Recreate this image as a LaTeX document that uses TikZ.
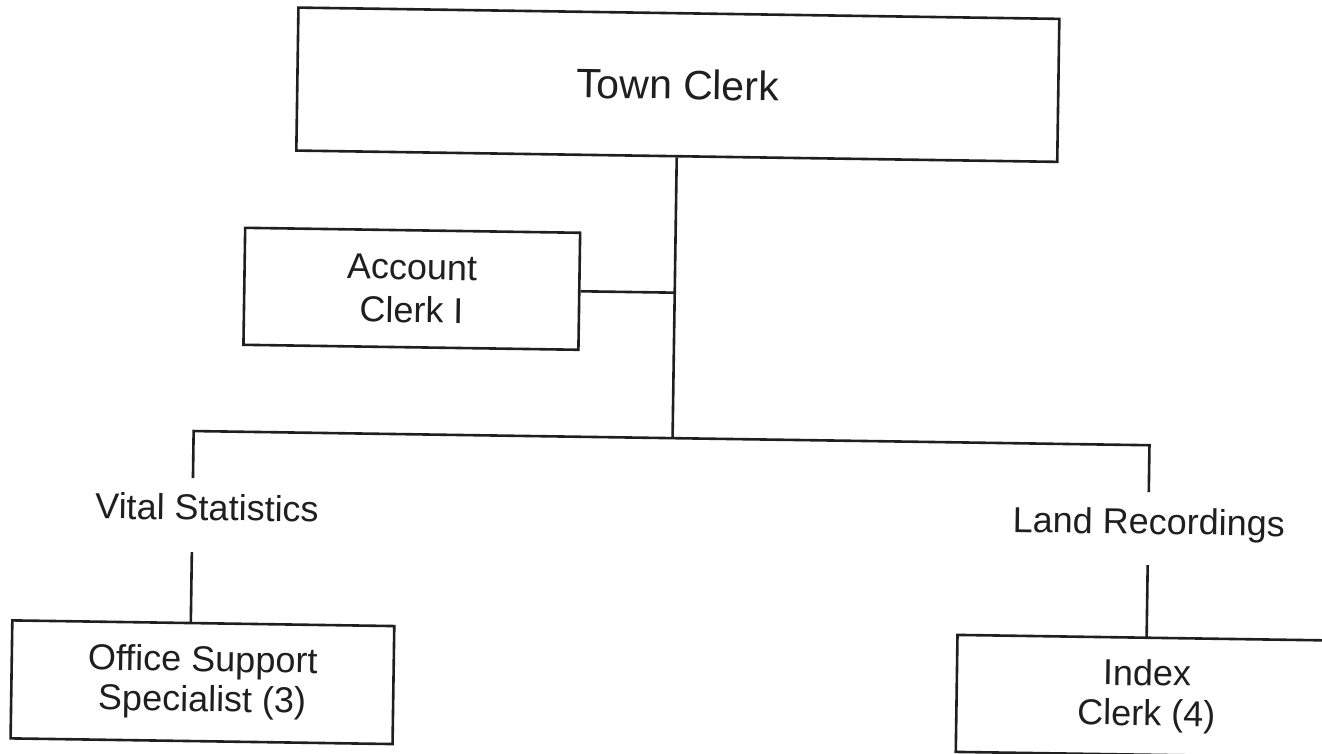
\documentclass[tikz,border=0pt]{standalone}
\usepackage{fontspec}
\setmainfont{Liberation Sans}
\begin{document}
\begin{tikzpicture}[x=1pt,y=-1pt,
  ink/.style={draw=black!88, line width=2.6pt},
  post/.style={ink, rectangle, align=center, inner sep=0pt, text=black!88,
               font=\fontsize{36}{40}\selectfont},
  unit/.style={text=black!88, inner sep=0pt, font=\fontsize{36}{40}\selectfont},
  link/.style={draw=black!88, line width=2.6pt}]
\useasboundingbox (0,0) rectangle (1322,754);
\clip (0,0) rectangle (1322,754);
\fill[white] (0,0) rectangle (1322,754);
\begin{scope}[rotate around={-0.85:(661,377)}, transform shape]
  % positions
  \node[post, minimum width=761, minimum height=143,
        font=\fontsize{41}{46}\selectfont] (tc) at (673.5,84.5) {Town Clerk};
  \node[post, minimum width=335, minimum height=117,
        font=\fontsize{36}{43}\selectfont] (acc) at (410.5,292.5) {Account\\Clerk I};
  \node[unit, anchor=base] (vs) at (209,527) {Vital Statistics};
  \node[unit, anchor=base] (lr) at (1151,527) {Land Recordings};
  \node[post, minimum width=382, minimum height=118] (oss) at (207,689)
        {Office Support\\Specialist (3)};
  \node[post, minimum width=380, minimum height=117] (ic) at (1151.3,689)
        {Index\\Clerk (4)};

  % junction points of the reporting lines
  \coordinate (hub) at (673.5,438);
  \coordinate (accJoin) at (673.5,292.5);
  \coordinate (hl) at (194.5,438);
  \coordinate (hr) at (1150.5,438);
  \coordinate (vsUp) at (194.5,485);
  \coordinate (vsDn) at (194.5,559);
  \coordinate (ossTop) at (194.5,630);
  \coordinate (lrUp) at (1150.5,485);
  \coordinate (lrDn) at (1150.5,558);
  \coordinate (icTop) at (1150.5,631);

  % reporting lines
  \draw[link] (tc.south) -- (hub);
  \draw[link] (acc.east) -- (accJoin);
  \draw[link] (vsUp) -- (hl) -- (hr) -- (lrUp);
  \draw[link] (vsDn) -- (ossTop);
  \draw[link] (lrDn) -- (icTop);
\end{scope}
\end{tikzpicture}
\end{document}
